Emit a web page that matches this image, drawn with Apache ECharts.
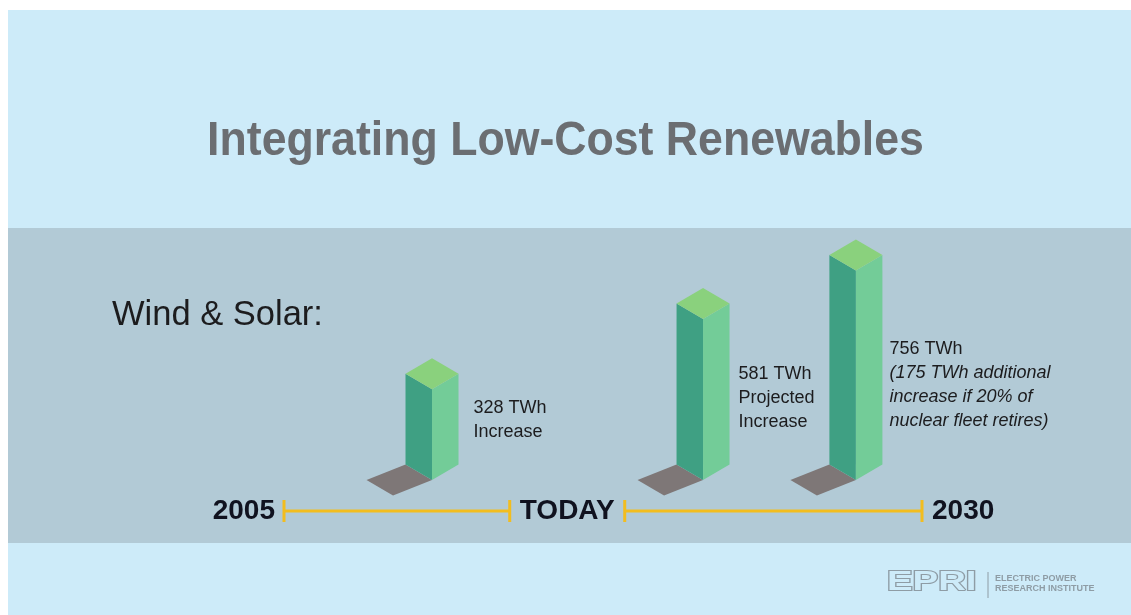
<!DOCTYPE html>
<html>
<head>
<meta charset="utf-8">
<script src="https://cdn.jsdelivr.net/npm/echarts@6/dist/echarts.min.js"></script>
<style>
  html, body { margin: 0; padding: 0; background: #ffffff; }
  #chart { width: 1131px; height: 615px; }
</style>
</head>
<body>
<div id="chart"></div>
<script>
// ---- data -------------------------------------------------------------
const TITLE = 'Integrating Low-Cost Renewables';
const SUBJECT = 'Wind & Solar:';
const PERIODS = ['2005 to today', 'Today to 2030', 'Today to 2030, 20% of nuclear fleet retired'];
const TWH = [328, 581, 756];                       // wind & solar generation increase, TWh
const TIMELINE_YEARS = [2005, 2016, 2030];
const TIMELINE_LABELS = ['2005', 'TODAY', '2030'];

// ---- layout -----------------------------------------------------------
const BAR_YEAR = [2010.8, 2021.42, 2027.41];       // where each column stands on the timeline
const LABEL_GAP = [15, 9, 7];                      // px between column and its caption
const LABEL_SHIFT = [-15, -2, 10];                 // caption centre relative to column mid-height
const BOX = { halfWidth: 26.5, depth: 15.5, shadow: [-39, 15.5] };
const COLORS = {
  page: '#CDEBF9', band: '#B2CAD6',
  left: '#3FA083', right: '#73CC98', top: '#8AD17D', shadow: '#7E7777',
  title: '#6B6E72', text: '#1C1C1E', axisText: '#10121F', timeline: '#F2BD1F', logo: '#8E9CA5'
};
const FONT = '"Liberation Sans", Arial, Helvetica, sans-serif';

// captions under the value line of each column
function captionLines(i) {
  if (i === 0) return { lines: ['Increase'], italic: false };
  if (i === 1) return { lines: ['Projected', 'Increase'], italic: false };
  return {
    lines: [
      '(' + (TWH[2] - TWH[1]) + ' TWh additional',
      'increase if 20% of',
      'nuclear fleet retires)'
    ],
    italic: true
  };
}

function renderColumn(params, api) {
  const i = api.value(2);
  const base = api.coord([api.value(0), 0]);
  const top = api.coord([api.value(0), api.value(1)]);
  const cx = base[0], yb = base[1], yt = top[1];
  const W = BOX.halfWidth, D = BOX.depth, S = BOX.shadow;

  const children = [
    { type: 'polygon', shape: { points: [[cx - W, yb - D], [cx, yb], [cx + S[0], yb + S[1]], [cx - W + S[0], yb - D + S[1]]] },
      style: { fill: COLORS.shadow } },
    { type: 'polygon', shape: { points: [[cx - W, yt - D], [cx, yt], [cx, yb], [cx - W, yb - D]] },
      style: { fill: COLORS.left } },
    { type: 'polygon', shape: { points: [[cx, yt], [cx + W, yt - D], [cx + W, yb - D], [cx, yb]] },
      style: { fill: COLORS.right } },
    { type: 'polygon', shape: { points: [[cx, yt], [cx - W, yt - D], [cx, yt - 2 * D], [cx + W, yt - D]] },
      style: { fill: COLORS.top } }
  ];

  const cap = captionLines(i);
  const textParts = ['{v|' + TWH[i] + ' TWh}'].concat(cap.lines.map(l => '{' + (cap.italic ? 'n' : 'v') + '|' + l + '}'));
  children.push({
    type: 'text',
    x: cx + W + LABEL_GAP[i],
    y: (yb + yt) / 2 + LABEL_SHIFT[i],
    style: {
      text: textParts.join('\n'),
      align: 'left',
      verticalAlign: 'middle',
      rich: {
        v: { fontFamily: FONT, fontSize: 18, lineHeight: 24, fill: COLORS.text, color: COLORS.text },
        n: { fontFamily: FONT, fontSize: 18, lineHeight: 24, fontStyle: 'italic', fill: COLORS.text, color: COLORS.text }
      }
    }
  });
  return { type: 'group', children };
}

function renderTimeline(params, api) {
  const i = api.value(2);
  const p = api.coord([api.value(0), 0]);
  const x = p[0], y = p[1] + 31;
  const tick = (tx) => ({ type: 'line', shape: { x1: tx, y1: y - 11, x2: tx, y2: y + 11 },
    style: { stroke: COLORS.timeline, lineWidth: 3 } });
  const seg = (x1, x2) => ({ type: 'line', shape: { x1, y1: y, x2, y2: y },
    style: { stroke: COLORS.timeline, lineWidth: 3 } });
  const label = (lx, align) => ({ type: 'text', x: lx, y: y,
    style: { text: TIMELINE_LABELS[i], align, verticalAlign: 'middle',
             font: 'bold 28px ' + FONT, fill: COLORS.axisText } });
  const children = [];
  if (i === 0) {
    const next = api.coord([TIMELINE_YEARS[1], 0])[0] - 55;
    children.push(seg(x, next), tick(x), label(x - 9, 'right'));
  } else if (i === 1) {
    const next = api.coord([TIMELINE_YEARS[2], 0])[0];
    children.push(tick(x - 55), tick(x + 60), seg(x + 60, next), label(x + 2.5, 'center'));
  } else {
    children.push(tick(x), label(x + 10, 'left'));
  }
  return { type: 'group', children };
}

const chart = echarts.init(document.getElementById('chart'), null, { renderer: 'canvas' });
chart.setOption({
  backgroundColor: '#ffffff',
  animation: false,
  grid: { left: 284, right: 209, top: 203, bottom: 135 },
  xAxis: { type: 'value', min: 2005, max: 2030, show: false },
  yAxis: { type: 'value', min: 0, max: 1000, show: false },
  graphic: [
    { type: 'rect', z: -10, shape: { x: 8, y: 10, width: 1123, height: 605 }, style: { fill: COLORS.page } },
    { type: 'rect', z: -9, shape: { x: 8, y: 228, width: 1123, height: 315 }, style: { fill: COLORS.band } },
    // slightly condensed bold headline
    { type: 'text', x: 565.5, y: 142, scaleX: 0.93,
      style: { text: TITLE, font: 'bold 48px ' + FONT, fill: COLORS.title, align: 'center', verticalAlign: 'middle' } },
    { type: 'text', x: 112, y: 315, style: { text: SUBJECT, font: '34.5px ' + FONT, fill: COLORS.text, verticalAlign: 'middle' } },
    { type: 'text', x: 887, y: 583, scaleX: 1.42,
      style: { text: 'EPRI', font: 'bold 27px ' + FONT, fill: COLORS.page, stroke: COLORS.logo, lineWidth: 2, verticalAlign: 'middle' } },
    { type: 'line', shape: { x1: 988, y1: 572, x2: 988, y2: 598 }, style: { stroke: COLORS.logo, lineWidth: 1 } },
    { type: 'text', x: 995, y: 584,
      style: { text: 'ELECTRIC POWER\nRESEARCH INSTITUTE', font: 'bold 9px ' + FONT, lineHeight: 10,
               fill: COLORS.logo, verticalAlign: 'middle' } }
  ],
  series: [
    {
      type: 'custom',
      name: 'Timeline',
      renderItem: renderTimeline,
      data: TIMELINE_YEARS.map((yr, i) => [yr, 0, i]),
      silent: true
    },
    {
      type: 'custom',
      name: 'Wind & solar increase',
      renderItem: renderColumn,
      data: TWH.map((v, i) => ({ name: PERIODS[i], value: [BAR_YEAR[i], v, i] })),
      silent: true
    }
  ]
});
</script>
</body>
</html>
